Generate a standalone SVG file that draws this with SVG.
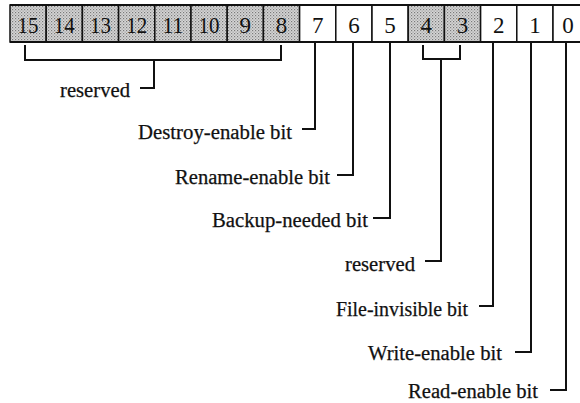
<svg xmlns="http://www.w3.org/2000/svg" width="580" height="403" viewBox="0 0 580 403">
<defs>
<pattern id="dots" width="3" height="3" patternUnits="userSpaceOnUse">
<rect width="3" height="3" fill="#d6d6d6"/>
<rect x="0" y="0" width="1.2" height="1.2" fill="#7a7a7a"/>
<rect x="1.5" y="1.5" width="1.2" height="1.2" fill="#9a9a9a"/>
</pattern>
</defs>
<style>
.cell{stroke:#111;stroke-width:1.5}
.sh{fill:url(#dots)}
.wh{fill:#fff}
.num{font-family:"Liberation Serif",serif;font-size:23px;fill:#111;text-anchor:middle}
.lbl{font-family:"Liberation Serif",serif;font-size:20px;fill:#111;text-anchor:end;stroke:#111;stroke-width:0.25}
.ln{stroke:#111;stroke-width:2;fill:none}
</style>
<rect width="580" height="403" fill="#fff"/>
<g id="register">
<g id="b15"><rect class="cell sh" x="10" y="5" width="36.2" height="37"/><text class="num" x="28.1" y="33" textLength="21" lengthAdjust="spacingAndGlyphs">15</text></g>
<g id="b14"><rect class="cell sh" x="46.2" y="5" width="36.2" height="37"/><text class="num" x="64.3" y="33" textLength="21" lengthAdjust="spacingAndGlyphs">14</text></g>
<g id="b13"><rect class="cell sh" x="82.4" y="5" width="36.2" height="37"/><text class="num" x="100.5" y="33" textLength="21" lengthAdjust="spacingAndGlyphs">13</text></g>
<g id="b12"><rect class="cell sh" x="118.6" y="5" width="36.2" height="37"/><text class="num" x="136.7" y="33" textLength="21" lengthAdjust="spacingAndGlyphs">12</text></g>
<g id="b11"><rect class="cell sh" x="154.8" y="5" width="36.2" height="37"/><text class="num" x="172.9" y="33" textLength="21" lengthAdjust="spacingAndGlyphs">11</text></g>
<g id="b10"><rect class="cell sh" x="191" y="5" width="36.2" height="37"/><text class="num" x="209.1" y="33" textLength="21" lengthAdjust="spacingAndGlyphs">10</text></g>
<g id="b9"><rect class="cell sh" x="227.2" y="5" width="36.2" height="37"/><text class="num" x="245.3" y="33">9</text></g>
<g id="b8"><rect class="cell sh" x="263.4" y="5" width="36.2" height="37"/><text class="num" x="281.5" y="33">8</text></g>
<g id="b7"><rect class="cell wh" x="299.6" y="5" width="36.2" height="37"/><text class="num" x="317.7" y="33">7</text></g>
<g id="b6"><rect class="cell wh" x="335.8" y="5" width="36.2" height="37"/><text class="num" x="353.9" y="33">6</text></g>
<g id="b5"><rect class="cell wh" x="372" y="5" width="36.2" height="37"/><text class="num" x="390.1" y="33">5</text></g>
<g id="b4"><rect class="cell sh" x="408.2" y="5" width="36.2" height="37"/><text class="num" x="426.3" y="33">4</text></g>
<g id="b3"><rect class="cell sh" x="444.4" y="5" width="36.2" height="37"/><text class="num" x="462.5" y="33">3</text></g>
<g id="b2"><rect class="cell wh" x="480.6" y="5" width="36.2" height="37"/><text class="num" x="498.7" y="33">2</text></g>
<g id="b1"><rect class="cell wh" x="516.8" y="5" width="36.2" height="37"/><text class="num" x="534.9" y="33">1</text></g>
<g id="b0"><rect class="cell wh" x="553" y="5" width="36.2" height="37"/><text class="num" x="568" y="33">0</text></g>
<line class="ln" x1="10" y1="5" x2="580" y2="5"/>
<line class="ln" x1="10" y1="42" x2="580" y2="42"/>
</g>
<g id="connectors">
<path class="ln" d="M25,45 V60 H281 V45 M154,60 V88 H140"/>
<path class="ln" d="M315,43 V129 H302"/>
<path class="ln" d="M353,43 V175 H337"/>
<path class="ln" d="M390,43 V218 H373"/>
<path class="ln" d="M423,45 V59 H460 V45 M441,59 V261 H425"/>
<path class="ln" d="M493,43 V306 H479"/>
<path class="ln" d="M531,43 V352 H515"/>
<path class="ln" d="M566,43 V390 H550"/>
</g>
<g id="labels">
<text class="lbl" x="130" y="97" textLength="70" lengthAdjust="spacingAndGlyphs">reserved</text>
<text class="lbl" x="292" y="139" textLength="154" lengthAdjust="spacingAndGlyphs">Destroy-enable bit</text>
<text class="lbl" x="330" y="184" textLength="155" lengthAdjust="spacingAndGlyphs">Rename-enable bit</text>
<text class="lbl" x="368" y="227" textLength="156" lengthAdjust="spacingAndGlyphs">Backup-needed bit</text>
<text class="lbl" x="415" y="271" textLength="70" lengthAdjust="spacingAndGlyphs">reserved</text>
<text class="lbl" x="468" y="316" textLength="132" lengthAdjust="spacingAndGlyphs">File-invisible bit</text>
<text class="lbl" x="502" y="360" textLength="134" lengthAdjust="spacingAndGlyphs">Write-enable bit</text>
<text class="lbl" x="538" y="398" textLength="130" lengthAdjust="spacingAndGlyphs">Read-enable bit</text>
</g>
</svg>
